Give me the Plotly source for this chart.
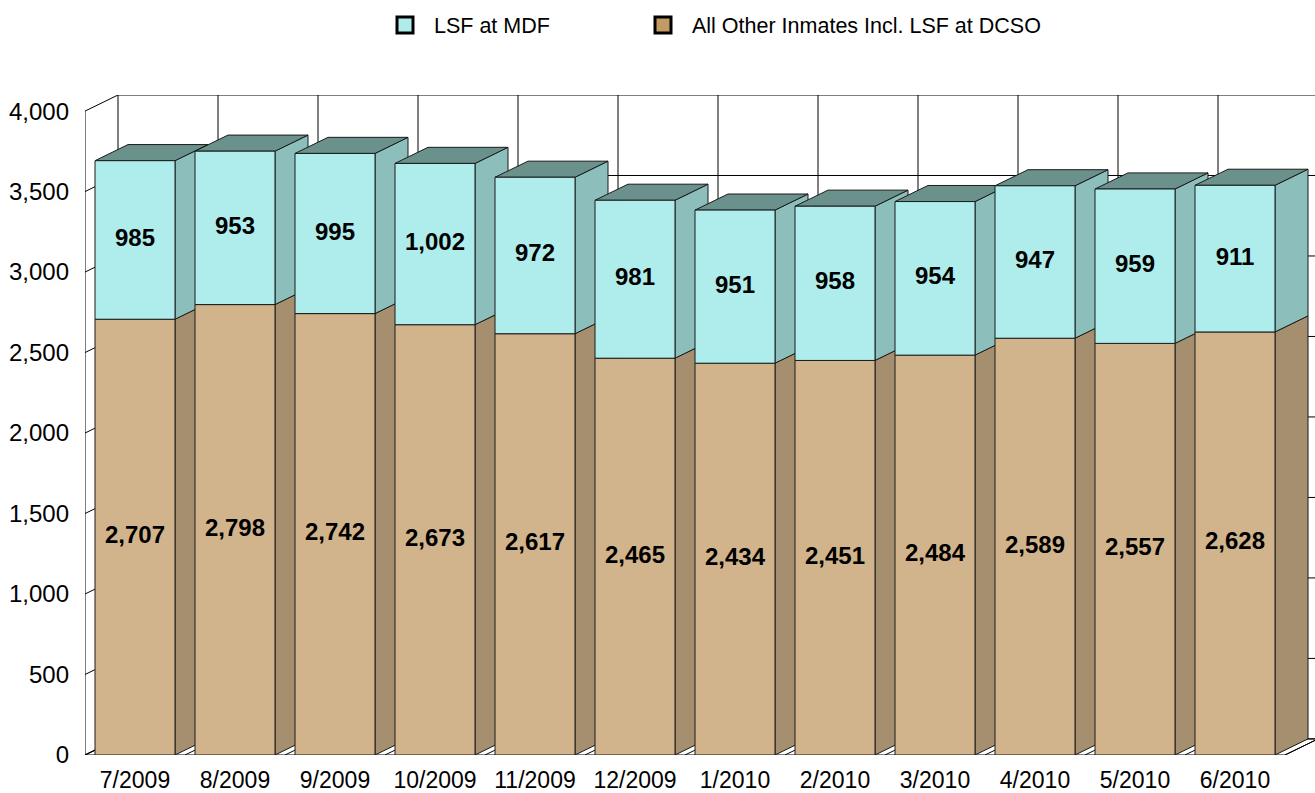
import plotly.graph_objects as go

# ---------------- data ----------------
months = ["7/2009", "8/2009", "9/2009", "10/2009", "11/2009", "12/2009",
          "1/2010", "2/2010", "3/2010", "4/2010", "5/2010", "6/2010"]
lsf_mdf = [985, 953, 995, 1002, 972, 981, 951, 958, 954, 947, 959, 911]
all_other = [2707, 2798, 2742, 2673, 2617, 2465, 2434, 2451, 2484, 2589, 2557, 2628]
y_ticks = [0, 500, 1000, 1500, 2000, 2500, 3000, 3500, 4000]

# ---------------- styling / 3D geometry ----------------
FONT = "Arial, Liberation Sans, sans-serif"
HALF = 0.4          # half bar width (category units)
DX = 0.33           # depth offset in x (category units)
DY = 100            # depth offset in y (value units)
Y_MAX = y_ticks[-1]
X_L = -0.5
X_R = len(months) - 0.5
EDGE = "#1a1a1a"

CY_FRONT, CY_SIDE, CY_TOP = "#AFEDED", "#8CBEBC", "#6B918D"
TN_FRONT, TN_SIDE = "#D2B48C", "#A68F6E"
LEG_CY, LEG_TN = "#AFEDED", "#C29A63"

fig = go.Figure()


def poly(xs, ys, fill, line=EDGE, width=1):
    fig.add_trace(go.Scatter(
        x=list(xs) + [xs[0]], y=list(ys) + [ys[0]], mode="lines",
        fill="toself", fillcolor=fill,
        line=dict(color=line, width=width),
        hoverinfo="skip", showlegend=False))


def lines(xs, ys, color="black", width=1):
    fig.add_trace(go.Scatter(x=xs, y=ys, mode="lines",
                             line=dict(color=color, width=width),
                             hoverinfo="skip", showlegend=False))


# back wall
poly([X_L + DX, X_R + DX, X_R + DX, X_L + DX],
     [DY, DY, Y_MAX + DY, Y_MAX + DY], "white", line="rgba(0,0,0,0)", width=0)
# floor
poly([X_L, X_R, X_R + DX, X_L + DX], [0, 0, DY, DY], "white", line="black")

gx, gy = [], []
for v in y_ticks:
    gx += [X_L + DX, X_R + DX, None]
    gy += [v + DY, v + DY, None]
    gx += [X_L, X_L + DX, None]
    gy += [v, v + DY, None]
for k in range(len(months) + 1):
    xb = X_L + k
    gx += [xb + DX, xb + DX, None]
    gy += [DY, Y_MAX + DY, None]
    gx += [xb, xb + DX, None]
    gy += [0, DY, None]
# left wall front edge (value axis line)
gx += [X_L, X_L, None]
gy += [0, Y_MAX, None]
lines(gx, gy)

# bars
for i in range(len(months)):
    xl, xr = i - HALF, i + HALF
    y0, y1 = 0, all_other[i]
    y2 = y1 + lsf_mdf[i]
    # lower segment
    poly([xr, xr + DX, xr + DX, xr], [y0, y0 + DY, y1 + DY, y1], TN_SIDE)
    poly([xl, xr, xr, xl], [y0, y0, y1, y1], TN_FRONT)
    # upper segment
    poly([xr, xr + DX, xr + DX, xr], [y1, y1 + DY, y2 + DY, y2], CY_SIDE)
    poly([xl, xr, xr + DX, xl + DX], [y2, y2, y2 + DY, y2 + DY], CY_TOP)
    poly([xl, xr, xr, xl], [y1, y1, y2, y2], CY_FRONT)

# value labels
xs = list(range(len(months)))
fig.add_trace(go.Scatter(
    x=xs, y=[a / 2 for a in all_other], mode="text",
    text=[f"{a:,}" for a in all_other],
    textfont=dict(family=FONT, size=24, color="black", weight="bold"),
    hoverinfo="skip", showlegend=False))
fig.add_trace(go.Scatter(
    x=xs, y=[a + b / 2 for a, b in zip(all_other, lsf_mdf)], mode="text",
    text=[f"{b:,}" for b in lsf_mdf],
    textfont=dict(family=FONT, size=24, color="black", weight="bold"),
    hoverinfo="skip", showlegend=False))

# legend entries (each in its own legend box for precise placement)
fig.add_trace(go.Scatter(x=[None], y=[None], mode="markers", name="LSF at MDF",
                         legend="legend",
                         marker=dict(symbol="square", size=16, color=LEG_CY,
                                     line=dict(color="black", width=3))))
fig.add_trace(go.Scatter(x=[None], y=[None], mode="markers",
                         name="All Other Inmates Incl. LSF at DCSO",
                         legend="legend2",
                         marker=dict(symbol="square", size=16, color=LEG_TN,
                                     line=dict(color="black", width=3))))

leg_common = dict(orientation="h", yanchor="middle", y=1.106, xanchor="left",
                  font=dict(size=21.5, family=FONT, color="black"),
                  itemsizing="trace", itemwidth=48, bgcolor="rgba(0,0,0,0)")

fig.update_layout(
    width=1315, height=793,
    margin=dict(l=85, r=0, t=95, b=38, autoexpand=False),
    paper_bgcolor="white", plot_bgcolor="white",
    font=dict(family=FONT, color="black"),
    showlegend=True,
    legend=dict(x=(376 - 85) / 1230, **leg_common),
    legend2=dict(x=(634 - 85) / 1230, **leg_common),
    xaxis=dict(range=[X_L, X_R + 0.3], tickvals=xs, ticktext=months,
               showgrid=False, zeroline=False, showline=False, ticks="",
               tickfont=dict(size=23, family=FONT, color="black"),
               ticklabelstandoff=9, automargin=False, fixedrange=True),
    yaxis=dict(range=[0, Y_MAX + DY], tickvals=y_ticks,
               ticktext=[f"{v:,}" for v in y_ticks],
               showgrid=False, zeroline=False, showline=False, ticks="",
               tickfont=dict(size=24, family=FONT, color="black"),
               ticklabelstandoff=15, automargin=False, fixedrange=True),
)

fig.write_html(
    "out.html",
    config={"displayModeBar": False},
    post_script="document.body.style.margin='0';document.body.style.overflow='hidden';",
)
